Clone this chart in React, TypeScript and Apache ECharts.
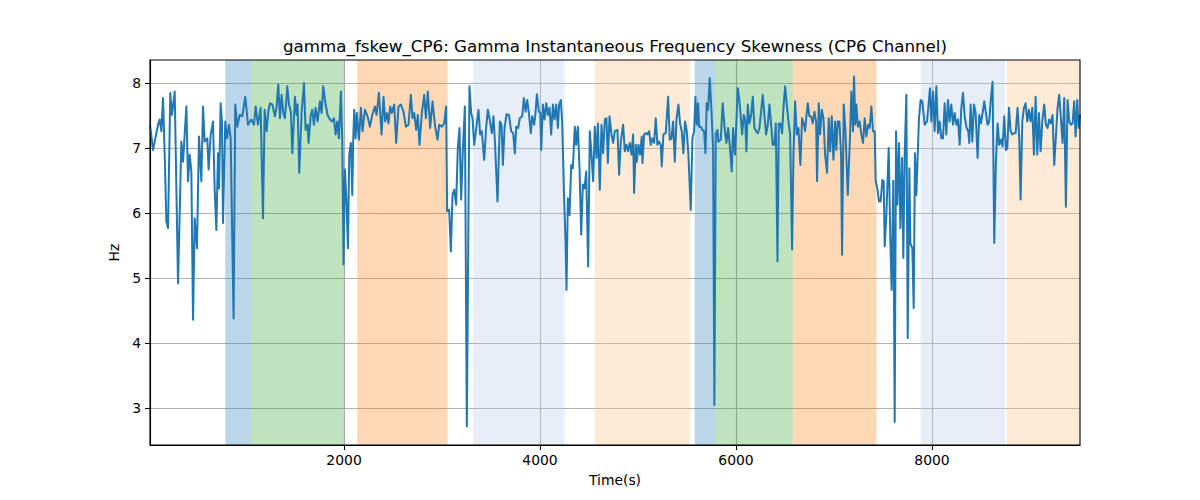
import React, { useEffect, useRef } from "react";
import * as echarts from "echarts";

const times = [
  20, 51, 68, 102, 119, 136, 153, 170, 187, 204, 227, 244, 272, 306, 340, 357, 391, 408, 425, 442, 459, 476, 499, 520, 544, 561, 578, 605, 618, 639, 663, 680, 697, 714, 724, 741, 754, 765, 788, 805, 826, 843, 873, 890, 911, 935, 962, 992, 1020, 1054, 1081, 1098, 1122, 1149, 1173, 1190,
  1210, 1227, 1244, 1268, 1295, 1312, 1329, 1346, 1363, 1380, 1397, 1421, 1438, 1458, 1472, 1499, 1516, 1526, 1543, 1567, 1591, 1608, 1628, 1638, 1659, 1676, 1693, 1710, 1730, 1754, 1771, 1788, 1812, 1832, 1856, 1880, 1897, 1914, 1931, 1948, 1968, 1982, 1995, 2009, 2026, 2040, 2053, 2070, 2084, 2094, 2104, 2118, 2131, 2152, 2172, 2189, 2213, 2240, 2264, 2288, 2315, 2332, 2356, 2383,
  2403, 2420, 2437, 2454, 2471, 2488, 2512, 2532, 2556, 2580, 2607, 2631, 2658, 2682, 2699, 2716, 2736, 2753, 2770, 2794, 2818, 2835, 2855, 2879, 2903, 2930, 2954, 2971, 2998, 3022, 3042, 3052, 3073, 3090, 3107, 3124, 3144, 3161, 3178, 3195, 3212, 3233, 3253, 3280, 3297, 3311, 3328, 3345, 3372, 3389, 3406, 3430, 3450, 3467, 3484, 3508, 3525, 3542, 3566,
  3590, 3607, 3621, 3638, 3658, 3682, 3706, 3726, 3743, 3757, 3777, 3794, 3818, 3835, 3852, 3869, 3886, 3906, 3920, 3940, 3954, 3968, 3988, 4002, 4012, 4029, 4046, 4063, 4080, 4097, 4114, 4131, 4148, 4165, 4182, 4195, 4212, 4226, 4243, 4260, 4270, 4284, 4301, 4318, 4335, 4355, 4369, 4386, 4403, 4420, 4437, 4454, 4471, 4491, 4508, 4525, 4542, 4559, 4576, 4590, 4610, 4627, 4644, 4661, 4678, 4692, 4709, 4729, 4746, 4763,
  4790, 4807, 4824, 4848, 4865, 4882, 4899, 4916, 4933, 4950, 4960, 4977, 4987, 5004, 5021, 5038, 5045, 5062, 5079, 5096, 5113, 5130, 5147, 5164, 5181, 5198, 5215, 5232, 5242, 5259, 5283, 5307, 5324, 5341, 5358, 5375, 5392, 5412, 5429, 5446, 5463, 5480, 5497, 5514, 5538, 5555, 5572, 5586, 5599, 5613, 5623, 5640, 5657, 5674, 5688, 5701, 5715, 5732, 5749, 5766, 5779, 5793, 5810, 5820, 5844, 5864, 5885, 5902, 5919, 5936, 5956, 5970, 5990,
  6018, 6035, 6052, 6062, 6079, 6093, 6106, 6120, 6137, 6154, 6171, 6188, 6205, 6222, 6239, 6256, 6273, 6290, 6307, 6324, 6341, 6358, 6375, 6392, 6406, 6423, 6436, 6453, 6470, 6484, 6501, 6518, 6535, 6552, 6572, 6586, 6603, 6620, 6637, 6657, 6674, 6691, 6705, 6715, 6732, 6749, 6766, 6783, 6800, 6817, 6827, 6844, 6858, 6875, 6892, 6909, 6929, 6946, 6960, 6977, 6994, 7011, 7024, 7038, 7055, 7072, 7082, 7099, 7116, 7140, 7164,
  7177, 7194, 7204, 7218, 7228, 7245, 7262, 7279, 7296, 7313, 7330, 7347, 7364, 7381, 7398, 7415, 7425, 7442, 7459, 7476, 7493, 7507, 7517, 7534, 7558, 7575, 7588, 7605, 7619, 7633, 7646, 7663, 7677, 7694, 7707, 7721, 7738, 7752, 7769, 7779, 7799, 7813, 7826, 7840, 7854, 7867, 7884, 7901, 7925, 7949, 7966, 7979, 7993, 8010, 8027, 8044, 8061, 8078, 8095, 8112, 8129, 8146, 8163, 8180, 8197, 8214, 8231, 8248, 8265, 8282, 8299, 8316, 8333,
  8353, 8370, 8380, 8394, 8411, 8428, 8445, 8465, 8482, 8499, 8516, 8533, 8550, 8567, 8584, 8598, 8618, 8635, 8652, 8669, 8686, 8703, 8720, 8737, 8754, 8768, 8785, 8802, 8819, 8836, 8853, 8873, 8890, 8904, 8921, 8938, 8955, 8972, 8989, 9006, 9023, 9040, 9057, 9074, 9091, 9108, 9125, 9145, 9162, 9179, 9196, 9213, 9230, 9247, 9264, 9281, 9298, 9315, 9332, 9349, 9366, 9383, 9400, 9417, 9434, 9451, 9465, 9482, 9496, 9510,
];

const values = [
  7.36, 6.97, 7.10, 7.36, 7.44, 7.26, 7.77, 6.90, 5.87, 5.77, 7.85, 7.51, 7.87, 4.92, 7.10, 6.79, 7.64, 6.49, 6.90, 6.64, 4.36, 5.92, 5.46, 7.18, 6.49, 7.64, 7.10, 7.15, 6.67, 7.20, 7.41, 6.36, 5.74, 6.92, 6.38, 7.69, 7.41, 5.85, 7.41, 7.15, 7.36, 7.15, 4.38, 7.67, 7.33, 7.51, 7.49, 7.79, 7.36, 7.44, 7.36, 7.64, 7.36, 7.62, 5.92, 7.59,
  7.26, 7.56, 7.69, 7.67, 7.49, 7.64, 7.98, 7.46, 7.82, 7.54, 7.46, 7.95, 7.67, 7.56, 6.92, 7.79, 7.51, 7.67, 6.62, 7.54, 8.00, 7.28, 7.36, 7.08, 7.49, 7.59, 7.36, 7.62, 7.41, 7.72, 7.54, 7.95, 7.67, 7.51, 7.44, 7.41, 7.46, 7.21, 7.41, 7.15, 7.87, 7.10, 5.21, 6.67, 6.13, 5.46, 6.90, 7.08, 6.28, 7.15, 7.59, 7.15, 7.54, 7.13, 7.62, 7.26, 7.59, 7.49, 7.33, 7.51, 7.64, 7.51, 7.85, 7.21,
  7.79, 7.41, 7.54, 7.38, 7.64, 7.54, 7.67, 7.08, 7.64, 7.67, 7.56, 7.33, 7.36, 7.82, 7.46, 7.54, 7.28, 7.51, 7.05, 7.54, 7.82, 7.46, 7.87, 7.31, 7.72, 7.33, 7.13, 7.36, 7.33, 7.38, 7.64, 6.03, 6.05, 5.41, 6.28, 6.36, 6.13, 7.00, 7.31, 6.21, 6.95, 7.64, 2.72, 7.95, 7.54, 7.46, 7.05, 7.26, 7.59, 7.21, 7.26, 6.82, 7.31, 7.59, 7.46, 7.23, 7.49, 7.03, 6.18,
  7.41, 7.36, 6.74, 7.31, 7.52, 7.51, 7.26, 7.23, 6.92, 7.33, 7.31, 7.46, 7.49, 7.77, 7.56, 7.74, 7.54, 7.23, 7.49, 7.36, 7.54, 7.83, 7.56, 7.54, 6.97, 7.67, 7.44, 7.69, 7.51, 7.62, 7.21, 7.67, 7.44, 7.67, 7.31, 7.67, 7.74, 7.41, 6.38, 5.56, 4.82, 6.23, 5.97, 6.74, 6.69, 7.33, 7.05, 7.33, 6.69, 5.67, 6.44, 6.38, 6.64, 5.18, 7.26, 6.90, 6.49, 7.33, 6.85, 7.38, 6.36, 7.36, 6.92, 7.44, 7.46, 6.77, 7.49, 7.21, 7.08, 7.26,
  7.28, 6.59, 7.10, 7.36, 6.95, 7.05, 6.95, 7.08, 6.90, 7.21, 6.31, 7.05, 6.79, 7.05, 6.90, 7.18, 6.77, 7.21, 7.23, 7.21, 7.26, 7.05, 7.15, 7.08, 7.46, 7.05, 7.10, 7.05, 6.72, 7.21, 7.23, 7.79, 7.13, 7.15, 7.41, 6.79, 7.44, 7.67, 7.38, 7.26, 6.92, 7.41, 7.26, 6.90, 6.05, 7.15, 7.26, 7.79, 7.36, 7.69, 7.33, 7.33, 7.28, 7.26, 6.92, 7.69, 7.59, 8.08, 7.59, 7.00, 3.05, 7.21, 7.28, 7.10, 7.13, 7.69, 7.28, 7.08, 7.31, 7.05, 6.64, 7.31, 6.90,
  7.92, 7.72, 7.41, 7.21, 7.51, 7.44, 6.95, 7.67, 7.38, 7.51, 7.79, 7.31, 7.26, 7.23, 7.31, 7.56, 7.82, 7.49, 7.21, 7.36, 7.67, 7.36, 7.05, 7.05, 7.38, 5.26, 7.38, 7.38, 7.23, 7.62, 7.95, 7.67, 7.41, 7.21, 5.44, 6.90, 7.72, 7.21, 7.31, 6.74, 7.46, 7.38, 7.26, 7.44, 7.69, 7.49, 7.49, 7.38, 7.56, 7.41, 6.49, 7.69, 7.21, 7.59, 7.46, 6.90, 6.62, 7.46, 6.95, 7.49, 6.82, 7.41, 6.97, 7.41, 7.41, 6.90, 5.36, 7.67, 7.28, 6.28, 7.21,
  7.87, 7.26, 8.10, 7.36, 7.67, 7.33, 7.41, 7.21, 7.08, 7.46, 7.18, 7.36, 7.31, 7.64, 7.26, 7.26, 6.49, 6.38, 6.18, 6.18, 6.51, 6.49, 5.49, 5.97, 7.00, 5.56, 4.82, 6.50, 2.79, 7.26, 6.13, 7.08, 5.77, 6.85, 5.31, 6.90, 7.82, 4.08, 6.69, 5.54, 5.46, 4.54, 6.92, 6.28, 6.90, 7.46, 7.74, 7.72, 7.36, 7.41, 7.69, 7.92, 7.41, 7.87, 7.26, 7.95, 7.23, 7.41, 7.15, 7.15, 7.69, 7.21, 7.74, 7.41, 7.67, 7.36, 7.54, 7.36, 7.44, 7.05, 7.62, 7.85, 7.49,
  7.31, 7.26, 7.08, 7.67, 7.10, 7.67, 7.54, 6.85, 7.51, 7.38, 7.54, 7.72, 7.54, 7.36, 7.41, 7.72, 8.02, 5.54, 6.79, 7.38, 7.05, 7.13, 7.03, 7.49, 6.97, 7.00, 7.62, 7.26, 7.21, 7.23, 7.23, 7.62, 7.15, 6.21, 7.41, 7.62, 7.69, 7.41, 7.59, 7.41, 7.62, 6.90, 7.79, 6.90, 7.54, 6.95, 7.41, 7.67, 7.36, 7.31, 7.44, 7.38, 7.51, 6.74, 7.18, 7.62, 7.82, 7.46, 7.08, 7.77, 6.10, 7.74, 7.41, 7.36, 7.38, 7.72, 7.18, 7.74, 7.31, 7.51,
];

const bandStart = [788, 1053, 2134, 3315, 4559, 5579, 5786, 6579, 7884, 8761];
const bandEnd = [1053, 2002, 3056, 4250, 5528, 5786, 6579, 7432, 8745, 9510];
const bandColor = [
  "rgba(31,119,180,0.3)",
  "rgba(44,160,44,0.3)",
  "rgba(255,127,14,0.3)",
  "rgba(174,199,232,0.3)",
  "rgba(255,187,120,0.3)",
  "rgba(31,119,180,0.3)",
  "rgba(44,160,44,0.3)",
  "rgba(255,127,14,0.3)",
  "rgba(174,199,232,0.3)",
  "rgba(255,187,120,0.3)",
];

const xTicks = [2000, 4000, 6000, 8000];
const yTicks = [3, 4, 5, 6, 7, 8];
const xMin = 20;
const xMax = 9510;
const yMin = 2.435;
const yMax = 8.355;

const titleText = "gamma_fskew_CP6: Gamma Instantaneous Frequency Skewness (CP6 Channel)";
const FONT = "DejaVu Sans";

export default function App() {
  const ref = useRef<HTMLDivElement>(null);
  useEffect(() => {
    if (!ref.current) return;
    const chart = echarts.init(ref.current, null, { renderer: "svg" });
    const data = times.map((t, i) => [t, values[i]]);
    const areas = bandStart.map((s, i) => [
      { xAxis: s, itemStyle: { color: bandColor[i] } },
      { xAxis: bandEnd[i] },
    ]);
    chart.setOption({
      animation: false,
      textStyle: { fontFamily: FONT },
      grid: { left: 150, right: 120, top: 60, bottom: 55, containLabel: false, outerBoundsMode: "none" },
      graphic: [
        {
          type: "text",
          x: 615,
          y: 46,
          style: {
            text: titleText,
            fontFamily: FONT,
            fontSize: 16.7,
            fill: "#000",
            textAlign: "center",
            textVerticalAlign: "middle",
          },
        },
        {
          type: "rect",
          z: 100,
          shape: { x: 150, y: 60, width: 930, height: 385 },
          style: { fill: "none", stroke: "#000", lineWidth: 1.1 },
          silent: true,
        },
      ],
      xAxis: {
        type: "value",
        min: xMin,
        max: xMax,
        name: "Time(s)",
        nameLocation: "middle",
        nameGap: 28,
        nameTextStyle: { fontFamily: FONT, fontSize: 13.9, color: "#000" },
        axisLine: { show: true, onZero: false, lineStyle: { color: "#000", width: 1.1 } },
        axisTick: { show: true, customValues: xTicks, length: 5, lineStyle: { color: "#000", width: 1.1 } },
        axisLabel: {
          customValues: xTicks,
          formatter: (v: number) => String(v),
          fontFamily: FONT,
          fontSize: 13.9,
          color: "#000",
          margin: 8,
        },
        splitLine: { show: true, lineStyle: { color: "#b0b0b0", width: 1.1 } },
      },
      yAxis: {
        type: "value",
        min: yMin,
        max: yMax,
        name: "Hz",
        nameLocation: "middle",
        nameGap: 25,
        nameTextStyle: { fontFamily: FONT, fontSize: 13.9, color: "#000" },
        axisLine: { show: true, onZero: false, lineStyle: { color: "#000", width: 1.1 } },
        axisTick: { show: true, customValues: yTicks, length: 5, lineStyle: { color: "#000", width: 1.1 } },
        axisLabel: {
          customValues: yTicks,
          formatter: (v: number) => String(v),
          fontFamily: FONT,
          fontSize: 13.9,
          color: "#000",
          margin: 9,
        },
        splitLine: { show: true, lineStyle: { color: "#b0b0b0", width: 1.1 } },
      },
      series: [
        {
          type: "line",
          data,
          showSymbol: false,
          symbol: "none",
          lineStyle: { color: "#1f77b4", width: 2, join: "round" },
          z: 3,
          markArea: { silent: true, data: areas },
        },
      ],
    });
    return () => chart.dispose();
  }, []);
  return (
    <div
      ref={ref}
      style={{ position: "absolute", left: 0, top: 0, width: 1200, height: 500, background: "#fff" }}
    />
  );
}
